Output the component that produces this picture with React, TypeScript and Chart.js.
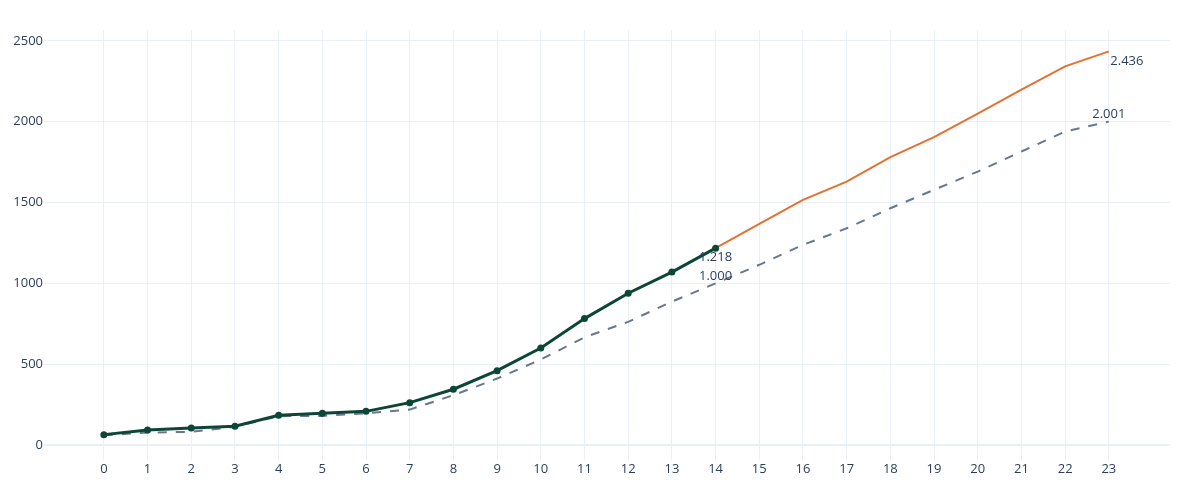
import { useEffect, useRef } from "react";
import Chart from "chart.js/auto";

// x positions (0..23)
const steps: number[] = Array.from({ length: 24 }, (_, i) => i);

// actual values, steps 0..14
const actualValues: number[] = [64, 93, 105, 116, 184, 196, 208, 262, 345, 460, 600, 782, 939, 1070, 1218];

// forecast values, steps 14..23
const forecastValues: number[] = [1218, 1368, 1517, 1630, 1781, 1905, 2050, 2199, 2343, 2436];

// target (dashed) values, steps 0..23
const targetValues: number[] = [
  60, 77, 81, 112, 178, 180, 196, 219, 308, 411, 529, 666, 762, 887, 1000, 1115, 1238, 1341, 1465, 1579, 1692,
  1816, 1940, 2001,
];

const yTicks: number[] = [0, 500, 1000, 1500, 2000, 2500];

const FONT = "'Open Sans', 'Noto Sans', sans-serif";
const TEXT = "#2a3f5f";
const GRID = "#ebf0f8";

// 1218 -> "1.218"
const fmt = (v: number) => {
  const k = Math.floor(v / 1000);
  const r = v % 1000;
  return k > 0 ? `${k}.${String(r).padStart(3, "0")}` : String(r);
};

export default function App() {
  const ref = useRef<HTMLCanvasElement | null>(null);

  useEffect(() => {
    document.body.style.margin = "0";
    if (!ref.current) return;
    const ctx = ref.current.getContext("2d");
    if (!ctx) return;

    const forecastStart = actualValues.length - 1;

    // end-of-line value labels: dataset index, point index, placement
    const endLabels = [
      { ds: 0, idx: actualValues.length - 1, place: "below" },
      { ds: 2, idx: 14, place: "above" },
      { ds: 1, idx: forecastValues.length - 1, place: "belowRight" },
      { ds: 2, idx: targetValues.length - 1, place: "above" },
    ];

    const chart = new Chart(ctx, {
      type: "line",
      data: {
        datasets: [
          {
            label: "Ist",
            data: actualValues.map((y, i) => ({ x: steps[i], y })),
            borderColor: "#0c4637",
            backgroundColor: "#0c4637",
            borderWidth: 3,
            pointRadius: 3.5,
            pointBorderWidth: 0,
            tension: 0,
          },
          {
            label: "Prognose",
            data: forecastValues.map((y, i) => ({ x: steps[forecastStart + i], y })),
            borderColor: "#e27234",
            borderWidth: 2,
            pointRadius: 0,
            tension: 0,
          },
          {
            label: "Ziel",
            data: targetValues.map((y, i) => ({ x: steps[i], y })),
            borderColor: "#68768f",
            borderWidth: 2,
            borderDash: [9, 9],
            pointRadius: 0,
            tension: 0,
          },
        ],
      },
      options: {
        responsive: false,
        animation: false,
        layout: { padding: { top: 30, right: 30, left: 0, bottom: 0 } },
        plugins: {
          legend: { display: false },
          tooltip: { enabled: false },
        },
        scales: {
          x: {
            type: "linear",
            min: -1.37,
            max: 24.4,
            afterBuildTicks: (axis) => {
              axis.ticks = steps.map((v) => ({ value: v }));
            },
            afterFit: (axis) => {
              axis.height = 40;
            },
            border: { display: false },
            grid: { color: GRID, lineWidth: 1, drawTicks: false },
            ticks: {
              padding: 1,
              color: TEXT,
              font: { family: FONT, size: 13 },
              maxRotation: 0,
              autoSkip: false,
              callback: (v) => String(v),
            },
          },
          y: {
            min: -93,
            max: 2568,
            afterBuildTicks: (axis) => {
              axis.ticks = yTicks.map((v) => ({ value: v }));
            },
            afterFit: (axis) => {
              axis.width = 44;
            },
            border: { display: false },
            grid: {
              color: GRID,
              lineWidth: (c) => (c.tick && c.tick.value === 0 ? 2 : 1),
              drawTicks: false,
            },
            ticks: {
              padding: 1,
              color: TEXT,
              font: { family: FONT, size: 13 },
              callback: (v) => String(v),
            },
          },
        },
      },
      plugins: [
        {
          id: "endLabels",
          afterDatasetsDraw: (c) => {
            const g = c.ctx;
            g.save();
            g.font = `13px ${FONT}`;
            g.fillStyle = TEXT;
            g.textBaseline = "middle";
            endLabels.forEach((l) => {
              const pt = c.getDatasetMeta(l.ds).data[l.idx];
              const raw = c.data.datasets[l.ds].data[l.idx] as { x: number; y: number };
              if (!pt) return;
              const text = fmt(raw.y);
              if (l.place === "below") {
                g.textAlign = "center";
                g.fillText(text, pt.x, pt.y + 9.5);
              } else if (l.place === "above") {
                g.textAlign = "center";
                g.fillText(text, pt.x, pt.y - 7);
              } else {
                g.textAlign = "left";
                g.fillText(text, pt.x + 1.5, pt.y + 9.5);
              }
            });
            g.restore();
          },
        },
      ],
    });

    return () => chart.destroy();
  }, []);

  return (
    <div style={{ width: 1200, height: 500 }}>
      <canvas ref={ref} width={1200} height={500} />
    </div>
  );
}
